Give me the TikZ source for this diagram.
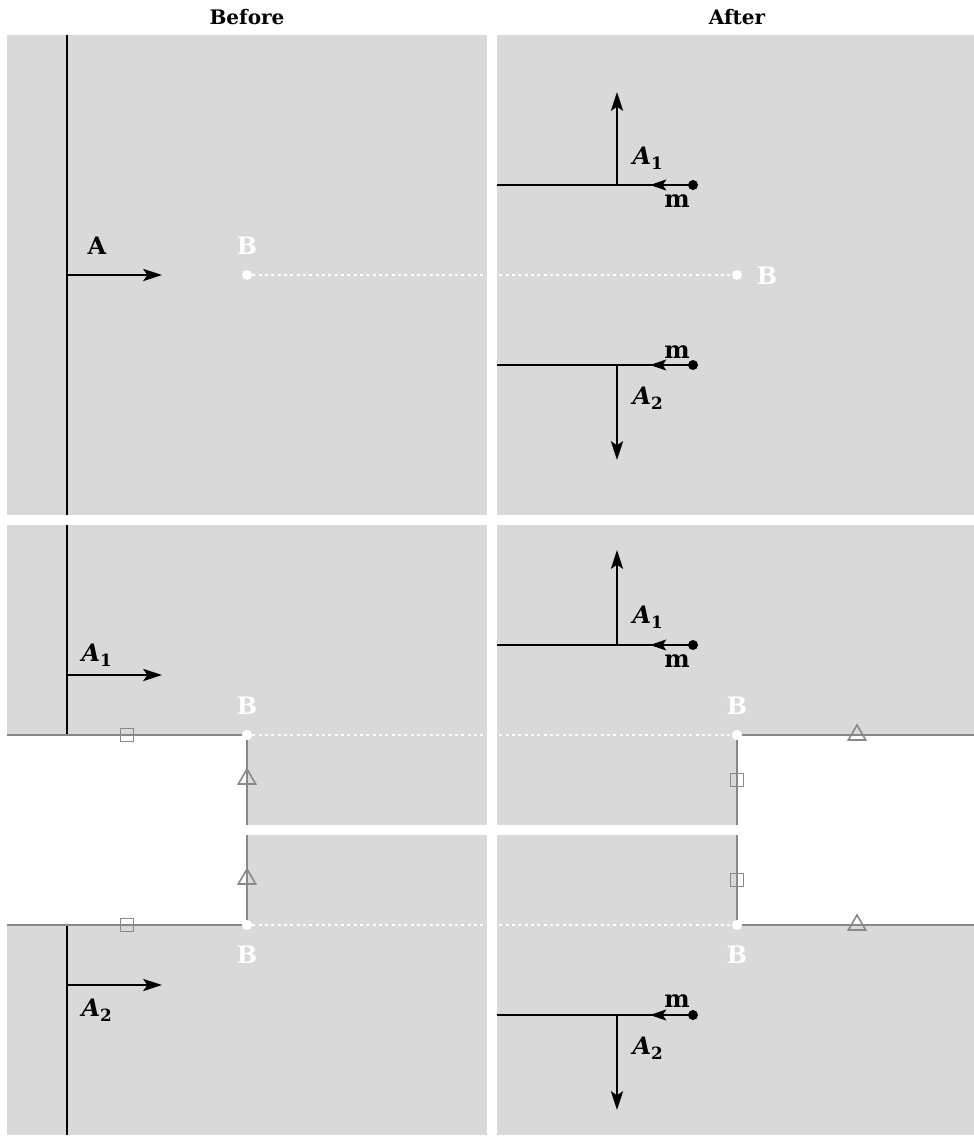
\documentclass[tikz,border=0pt]{standalone}
\usepackage{fontspec}
\setmainfont{DejaVu Serif}
\usetikzlibrary{positioning,arrows.meta,shapes.geometric}
\definecolor{panelgray}{RGB}{217,217,217}
\definecolor{edgegray}{RGB}{136,136,136}

\begin{document}
\begin{tikzpicture}[x=0.75pt,y=-0.75pt,
	wall/.style={line width=2.2pt},
	vec/.style={line width=2.2pt,-{Stealth[length=14pt,width=9pt,inset=3pt]}},
	mvec/.style={line width=2.2pt,-{Stealth[length=12pt,width=8pt,inset=2.5pt]}},
	cut/.style={edgegray,line width=2pt},
	link/.style={white,line width=2pt,dash pattern=on 2.25pt off 2.5pt},
	title/.style={font=\fontsize{15}{18}\selectfont\bfseries},
	lbl/.style={font=\fontsize{18}{21}\selectfont\bfseries,inner sep=0pt},
	blbl/.style={lbl,text=white},
	bdot/.style={circle,fill=white,inner sep=0pt,minimum size=7.5pt},
	mdot/.style={circle,fill=black,inner sep=0pt,minimum size=7.5pt},
	tri/.style={draw=edgegray,line width=1.2pt,regular polygon,regular polygon sides=3,minimum size=15pt,inner sep=0pt},
	sq/.style={draw=edgegray,line width=1.2pt,minimum size=9.8pt,inner sep=0pt},
	]
	\useasboundingbox (0,0) rectangle (974,1136);
	
	\fill[panelgray] (7,35) rectangle (487,515);
	\fill[panelgray] (497,35) rectangle (974,515);
	\fill[panelgray] (7,525) rectangle (487,735);
	\fill[panelgray] (247,735) rectangle (487,825);
	\fill[panelgray] (247,835) rectangle (487,925);
	\fill[panelgray] (7,925) rectangle (487,1135);
	\fill[panelgray] (497,525) rectangle (974,735);
	\fill[panelgray] (497,735) rectangle (737,825);
	\fill[panelgray] (497,835) rectangle (737,925);
	\fill[panelgray] (497,925) rectangle (974,1135);
	
	\node[title] (before) at (247,17) {Before};
	\node[title] (after) at (737,17) {After};
	
	% before, single wall
	\coordinate (w0top) at (67,35);
	\coordinate (w0bot) at (67,515);
	\coordinate (w0foot) at (67,275);
	\coordinate (w0tip) at (162,275);
	\draw[wall] (w0top) -- (w0bot);
	\draw[vec] (w0foot) -- (w0tip);
	\node[lbl] (lA) at (97,246) {A};
	
	% after, split
	\coordinate (c1) at (497,185);
	\coordinate (j1) at (617,185);
	\coordinate (t1) at (617,92);
	\coordinate (h1) at (650,185);
	\coordinate (c2) at (497,365);
	\coordinate (j2) at (617,365);
	\coordinate (t2) at (617,460);
	\coordinate (h2) at (650,365);
	\node[mdot] (m1) at (693,185) {};
	\node[mdot] (m2) at (693,365) {};
	\draw[wall] (c1) -- (m1.center);
	\draw[wall] (c2) -- (m2.center);
	\draw[mvec] (m1) -- (h1);
	\draw[mvec] (m2) -- (h2);
	\draw[vec] (j1) -- (t1);
	\draw[vec] (j2) -- (t2);
	\node[lbl] (lA1) at (648,158) {\itshape A\textsubscript{\upshape 1}};
	\node[lbl] (lm1) at (677,201) {m};
	\node[lbl] (lm2) at (677,352) {m};
	\node[lbl] (lA2) at (648,398) {\itshape A\textsubscript{\upshape 2}};
	
	\node[bdot] (b1) at (247,275) {};
	\node[bdot] (b2) at (737,275) {};
	\draw[link] (b1) -- (b2);
	\node[blbl] (lb1) at (247,246) {B};
	\node[blbl] (lb2) at (767,276) {B};
	
	% before, two walls
	\coordinate (w1top) at (67,525);
	\coordinate (w1bot) at (67,735);
	\coordinate (w1foot) at (67,675);
	\coordinate (w1tip) at (162,675);
	\coordinate (w2top) at (67,925);
	\coordinate (w2bot) at (67,1135);
	\coordinate (w2foot) at (67,985);
	\coordinate (w2tip) at (162,985);
	\draw[wall] (w1top) -- (w1bot);
	\draw[wall] (w2top) -- (w2bot);
	\draw[vec] (w1foot) -- (w1tip);
	\draw[vec] (w2foot) -- (w2tip);
	\node[lbl] (lA1b) at (97,655) {\itshape A\textsubscript{\upshape 1}};
	\node[lbl] (lA2b) at (97,1010) {\itshape A\textsubscript{\upshape 2}};
	
	\node[bdot] (b3) at (247,735) {};
	\node[bdot] (b4) at (247,925) {};
	\node[bdot] (b5) at (737,735) {};
	\node[bdot] (b6) at (737,925) {};
	\coordinate (e3) at (7,735);
	\coordinate (e4) at (7,925);
	\coordinate (e5) at (974,735);
	\coordinate (e6) at (974,925);
	\coordinate (g3) at (247,825);
	\coordinate (g4) at (247,835);
	\coordinate (g5) at (737,825);
	\coordinate (g6) at (737,835);
	\draw[cut] (e3) -- (b3.center) -- (g3);
	\draw[cut] (e4) -- (b4.center) -- (g4);
	\draw[cut] (e5) -- (b5.center) -- (g5);
	\draw[cut] (e6) -- (b6.center) -- (g6);
	\draw[link] (b3) -- (b5);
	\draw[link] (b4) -- (b6);
	\node[bdot] at (b3) {};
	\node[bdot] at (b4) {};
	\node[bdot] at (b5) {};
	\node[bdot] at (b6) {};
	\node[sq] (s3) at (127,735) {};
	\node[sq] (s4) at (127,925) {};
	\node[tri] (t3) at (247,779) {};
	\node[tri] (t4) at (247,879) {};
	\node[sq] (s5) at (737,780) {};
	\node[sq] (s6) at (737,880) {};
	\node[tri] (t5) at (857,735) {};
	\node[tri] (t6) at (857,925) {};
	\node[blbl] (lb3) at (247,706) {B};
	\node[blbl] (lb4) at (247,955) {B};
	\node[blbl] (lb5) at (737,706) {B};
	\node[blbl] (lb6) at (737,955) {B};
	
	% after, two walls
	\coordinate (c3) at (497,645);
	\coordinate (j3) at (617,645);
	\coordinate (t3up) at (617,550);
	\coordinate (h3) at (650,645);
	\coordinate (c4) at (497,1015);
	\coordinate (j4) at (617,1015);
	\coordinate (t4dn) at (617,1110);
	\coordinate (h4) at (650,1015);
	\node[mdot] (m3) at (693,645) {};
	\node[mdot] (m4) at (693,1015) {};
	\draw[wall] (c3) -- (m3.center);
	\draw[wall] (c4) -- (m4.center);
	\draw[mvec] (m3) -- (h3);
	\draw[mvec] (m4) -- (h4);
	\draw[vec] (j3) -- (t3up);
	\draw[vec] (j4) -- (t4dn);
	\node[lbl] (lA1c) at (648,617) {\itshape A\textsubscript{\upshape 1}};
	\node[lbl] (lm3) at (677,661) {m};
	\node[lbl] (lm4) at (677,1001) {m};
	\node[lbl] (lA2c) at (648,1048) {\itshape A\textsubscript{\upshape 2}};
\end{tikzpicture}
\end{document}
